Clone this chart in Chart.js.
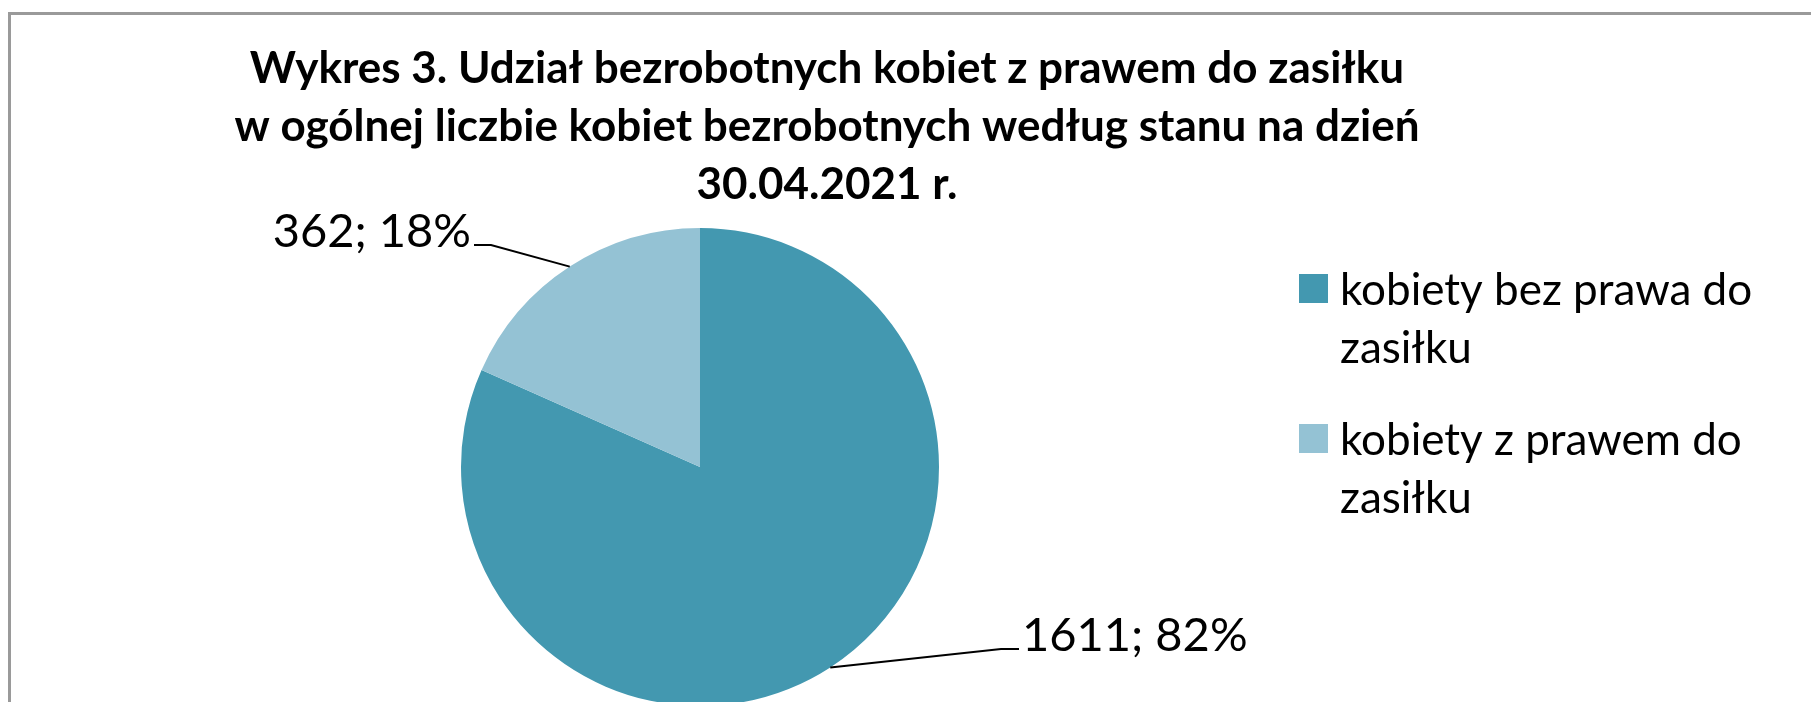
<!DOCTYPE html>
<html>
<head>
    <meta charset="utf-8">
    <title>Wykres 3</title>
    <script src="https://cdn.jsdelivr.net/npm/chart.js"></script>
    <style>
        html, body {
            margin: 0;
            padding: 0;
            background: #fff;
            overflow: hidden;
        }
        .frame {
            position: absolute;
            left: 8px;
            top: 12px;
            width: 1900px;
            height: 800px;
            border-left: 3px solid #9a9a9a;
            border-top: 3px solid #9a9a9a;
        }
        .chart-container {
            position: absolute;
            left: 0;
            top: 0;
            width: 1811px;
            height: 720px;
        }
    </style>
</head>
<body>
    <div class="frame"></div>
    <div class="chart-container">
        <canvas id="pieChart"></canvas>
    </div>

    <script>
const categories = ['kobiety bez prawa do zasiłku', 'kobiety z prawem do zasiłku'];
const legendLines = [['kobiety bez prawa do', 'zasiłku'], ['kobiety z prawem do', 'zasiłku']];
const values = [1611, 362];
const colors = ['#4398B0', '#94C2D4'];
const titleLines = [
    'Wykres 3. Udział bezrobotnych kobiet z prawem do zasiłku',
    'w ogólnej liczbie kobiet bezrobotnych według stanu na dzień',
    '30.04.2021 r.'
];

const FONT = 'Lato, "Open Sans", sans-serif';

// label anchors: where the text sits and where the leader line bends
const labelSpots = [
    { x: 1022, y: 636, align: 'left', elbowX: 1001 },
    { x: 471, y: 232, align: 'right', elbowX: 491 }
];

const extras = {
    id: 'extras',
    afterDraw(chart) {
        const ctx = chart.ctx;
        const total = values.reduce((a, b) => a + b, 0);
        ctx.save();

        // title
        ctx.fillStyle = '#000';
        ctx.font = 'bold 44px ' + FONT;
        ctx.textAlign = 'center';
        ctx.textBaseline = 'middle';
        titleLines.forEach((line, i) => {
            ctx.fillText(line, 827, 69 + i * 58);
        });

        // data labels with leader lines
        const meta = chart.getDatasetMeta(0);
        meta.data.forEach((arc, i) => {
            const mid = (arc.startAngle + arc.endAngle) / 2;
            const px = arc.x + Math.cos(mid) * arc.outerRadius;
            const py = arc.y + Math.sin(mid) * arc.outerRadius;
            const spot = labelSpots[i];
            const lineY = spot.y + 13;
            ctx.strokeStyle = '#000';
            ctx.lineWidth = 2;
            ctx.beginPath();
            ctx.moveTo(px, py);
            ctx.lineTo(spot.elbowX, lineY);
            ctx.lineTo(spot.align === 'left' ? spot.x - 3 : spot.x + 3, lineY);
            ctx.stroke();

            const pct = Math.round(values[i] / total * 100);
            ctx.font = '47px ' + FONT;
            ctx.textAlign = spot.align;
            ctx.textBaseline = 'middle';
            ctx.fillText(values[i] + '; ' + pct + '%', spot.x, spot.y);
        });

        // legend
        ctx.textAlign = 'left';
        ctx.textBaseline = 'middle';
        ctx.font = '44px ' + FONT;
        legendLines.forEach((lines, i) => {
            const top = 274 + i * 150;
            ctx.fillStyle = colors[i];
            ctx.fillRect(1299, top, 29, 29);
            ctx.fillStyle = '#000';
            lines.forEach((t, j) => {
                ctx.fillText(t, 1340, top + 17 + j * 58);
            });
        });

        ctx.restore();
    }
};

new Chart(document.getElementById('pieChart'), {
    type: 'pie',
    data: {
        labels: categories,
        datasets: [{
            data: values,
            backgroundColor: colors,
            borderWidth: 0
        }]
    },
    options: {
        responsive: true,
        maintainAspectRatio: false,
        animation: false,
        layout: {
            padding: { top: 228, bottom: 14, left: 461, right: 872 }
        },
        plugins: {
            legend: { display: false },
            title: { display: false },
            tooltip: { enabled: false }
        }
    },
    plugins: [extras]
});
</script>
</body>
</html>
